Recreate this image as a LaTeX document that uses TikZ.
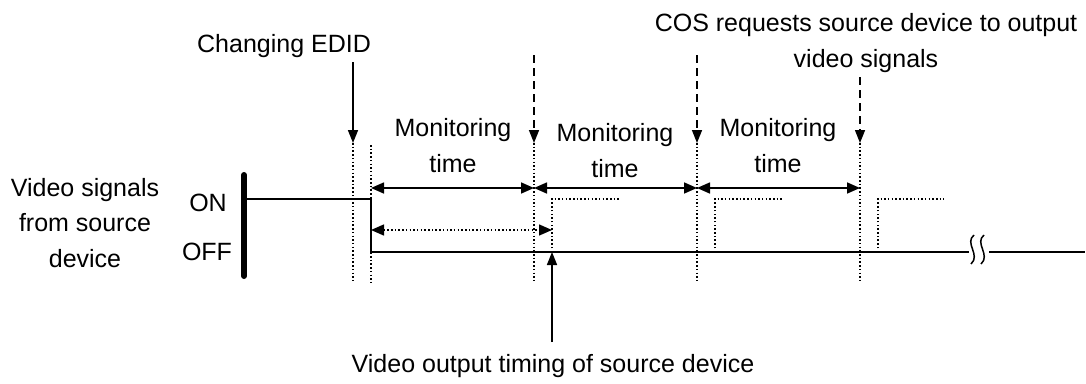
\documentclass[tikz,border=0pt]{standalone}
\usepackage{fontspec}
\setmainfont{Liberation Sans}
\usetikzlibrary{arrows.meta}
\begin{document}
\begin{tikzpicture}[x=1pt,y=-1pt,
  lbl/.style={font=\fontsize{25}{35.5}\selectfont, inner sep=0pt, anchor=base, align=center},
  sig/.style={line width=1.8pt, line join=miter},
  dotl/.style={line width=1.4pt, dash pattern=on 1.5pt off 2.2pt},
  dashl/.style={line width=1.5pt, dash pattern=on 8pt off 5pt},
  tipone/.style={-{Triangle[length=13pt,width=10pt]}},
  tiptwo/.style={{Triangle[length=13pt,width=11pt]}-{Triangle[length=13pt,width=11pt]}},
]
\useasboundingbox (0,0) rectangle (1086,383);

% coordinates
\coordinate (barT) at (244,175);
\coordinate (barB) at (244,276);
\coordinate (on0) at (244,199);
\coordinate (on1) at (371,199);
\coordinate (off1) at (371,252);
\coordinate (brkL) at (969,252);
\coordinate (brkR) at (989,252);
\coordinate (endR) at (1085,252);

% texts (anchor = baseline of last line)
\node[lbl] (edid) at (284,52) {Changing EDID};
\node[lbl] (cos) at (866,67) {COS requests source device to output\\video signals};
\node[lbl] (mon1) at (453,172) {Monitoring\\time};
\node[lbl] (mon2) at (615,177) {Monitoring\\time};
\node[lbl] (mon3) at (778,172) {Monitoring\\time};
\node[lbl] (vsig) at (85,267) {Video signals\\from source\\device};
\node[lbl] (on) at (208,211) {ON};
\node[lbl] (off) at (207,260) {OFF};
\node[lbl] (vout) at (553,372) {Video output timing of source device};

% thick bar
\draw[line width=6pt, line cap=round] (barT) -- (barB);

% signal
\draw[sig] (on0) -- (on1) -- (off1) -- (brkL);
\draw[sig] (brkR) -- (endR);
% break mark
\draw[line width=1.5pt] (974,235) .. controls (964,243) and (981,255) .. (971,264);
\draw[line width=1.5pt] (984,235) .. controls (974,243) and (991,255) .. (981,264);

% dotted verticals
\foreach \n/\x/\t in {a/353/143, b/371/145, c/534/143, d/697/143, e/860/143}{
  \coordinate (v\n t) at (\x,\t);
  \coordinate (v\n b) at (\x,283);
  \draw[dotl] (v\n t) -- (v\n b);
}

% changing EDID arrow
\coordinate (edidS) at (353,62);
\draw[line width=1.6pt, tipone] (edidS) -- (vat);

% dashed arrows
\coordinate (dc) at (534,55);
\coordinate (dd) at (697,55);
\coordinate (de) at (860,77);
\draw[dashl, tipone] (dc) -- (vct);
\draw[dashl, tipone] (dd) -- (vdt);
\draw[dashl, tipone] (de) -- (vet);

% monitoring arrows
\coordinate (m0) at (371,188);
\coordinate (m1) at (534,188);
\coordinate (m2) at (697,188);
\coordinate (m3) at (860,188);
\draw[line width=1.6pt, tiptwo] (m0) -- (m1);
\draw[line width=1.6pt, tiptwo] (m1) -- (m2);
\draw[line width=1.6pt, tiptwo] (m2) -- (m3);

% dotted double arrow
\coordinate (q0) at (371,230);
\coordinate (q1) at (552,230);
\draw[dotl, tiptwo] (q0) -- (q1);

% dotted pulses
\foreach \n/\x/\w in {p/552/619, r/715/782, s/878/944}{
  \coordinate (\n0) at (\x,252);
  \coordinate (\n1) at (\x,199);
  \coordinate (\n2) at (\w,199);
  \draw[dotl] (\n0) -- (\n1) -- (\n2);
}

% up arrow to video output timing
\coordinate (upS) at (552,342);
\draw[line width=1.6pt, tipone] (upS) -- (p0);
\end{tikzpicture}
\end{document}
